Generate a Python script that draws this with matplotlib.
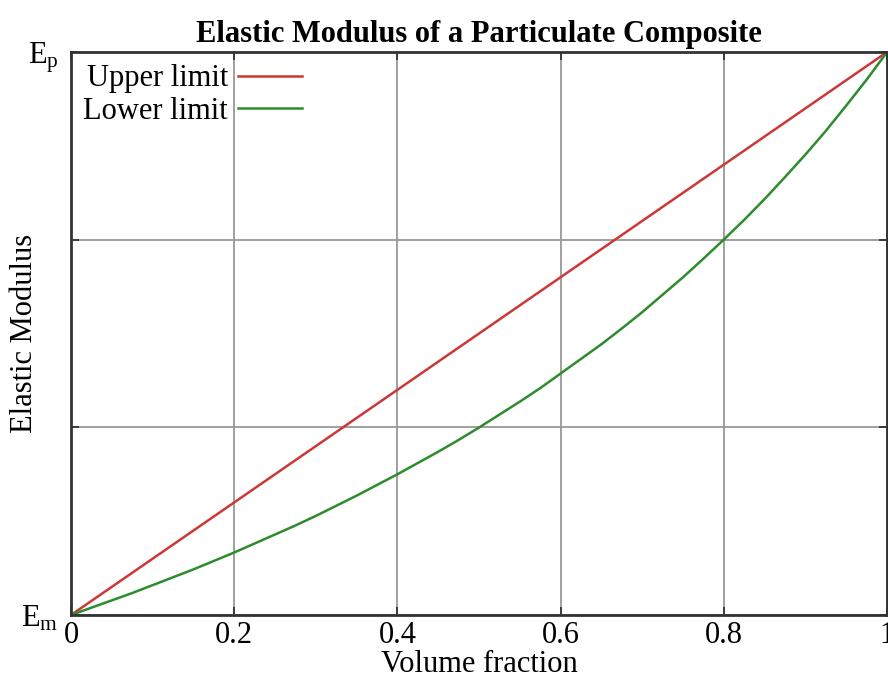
import matplotlib
matplotlib.use('Agg')
import matplotlib.pyplot as plt

# volume fraction of particles and modulus in units of E_m (E_p = 2 E_m)
upper_f = [0.0, 0.2, 0.4, 0.6, 0.8, 1.0]
upper = [1.0, 1.2, 1.4, 1.6, 1.8, 2.0]

lower_f = [0.0, 0.025, 0.05, 0.075, 0.1, 0.125, 0.15, 0.175, 0.2, 0.225,
           0.25, 0.275, 0.3, 0.325, 0.35, 0.375, 0.4, 0.425, 0.45, 0.475,
           0.5, 0.525, 0.55, 0.575, 0.6, 0.625, 0.65, 0.675, 0.7, 0.725,
           0.75, 0.775, 0.8, 0.825, 0.85, 0.875, 0.9, 0.925, 0.95, 0.975, 1.0]
lower = [1.0, 1.013, 1.026, 1.039, 1.053, 1.067, 1.081, 1.096, 1.111, 1.127,
         1.143, 1.159, 1.176, 1.194, 1.212, 1.231, 1.25, 1.27, 1.29, 1.311,
         1.333, 1.356, 1.379, 1.403, 1.429, 1.455, 1.481, 1.509, 1.538, 1.569,
         1.6, 1.633, 1.667, 1.702, 1.739, 1.778, 1.818, 1.86, 1.905, 1.951, 2.0]

xticks = [0, 0.2, 0.4, 0.6, 0.8, 1]
xticklabels = ['0', '0.2', '0.4', '0.6', '0.8', '1']
yticks = [1.0, 4 / 3, 5 / 3, 2.0]
yticklabels = [r'$\mathregular{E_m}$', '', '', r'$\mathregular{E_p}$']

plt.rcParams['font.family'] = ['Liberation Serif', 'DejaVu Serif']
plt.rcParams['mathtext.fontset'] = 'custom'
plt.rcParams['mathtext.rm'] = 'Liberation Serif'

fig = plt.figure(figsize=(8.88, 6.77), dpi=100)
ax = fig.add_axes([0.080, 0.0916, 0.919, 0.8316])

ax.plot(upper_f, upper, color='#cc3838', lw=1.8, label='Upper limit')
ax.plot(lower_f, lower, color='#2e8b2e', lw=1.8, label='Lower limit')

ax.set_xlim(0, 1)
ax.set_ylim(1, 2)
ax.set_xticks(xticks)
ax.set_xticklabels(xticklabels)
ax.set_yticks(yticks)
ax.set_yticklabels(yticklabels)
ax.grid(True, color='#999999', lw=1.3)
ax.tick_params(direction='in', length=6, width=1.3, color='#333333',
               top=True, right=True, labelsize=22)
ax.tick_params(axis='x', pad=4)
ax.tick_params(axis='y', pad=9)
for s in ax.spines.values():
    s.set_color('#333333')
    s.set_linewidth(2)

ax.set_xlabel('Volume fraction', fontsize=22, labelpad=0)
ax.set_ylabel('Elastic Modulus', fontsize=22)
ax.yaxis.set_label_coords(-0.039, 0.5)
ax.set_title('Elastic Modulus of a Particulate Composite', fontsize=22,
             fontweight='bold', pad=7)

leg = ax.legend(loc='upper left', frameon=False, markerfirst=False,
                fontsize=22, handlelength=2.1, handletextpad=0.33,
                labelspacing=0.12, borderaxespad=0.1, borderpad=0.3)

fig.savefig('out.png', dpi=100)
